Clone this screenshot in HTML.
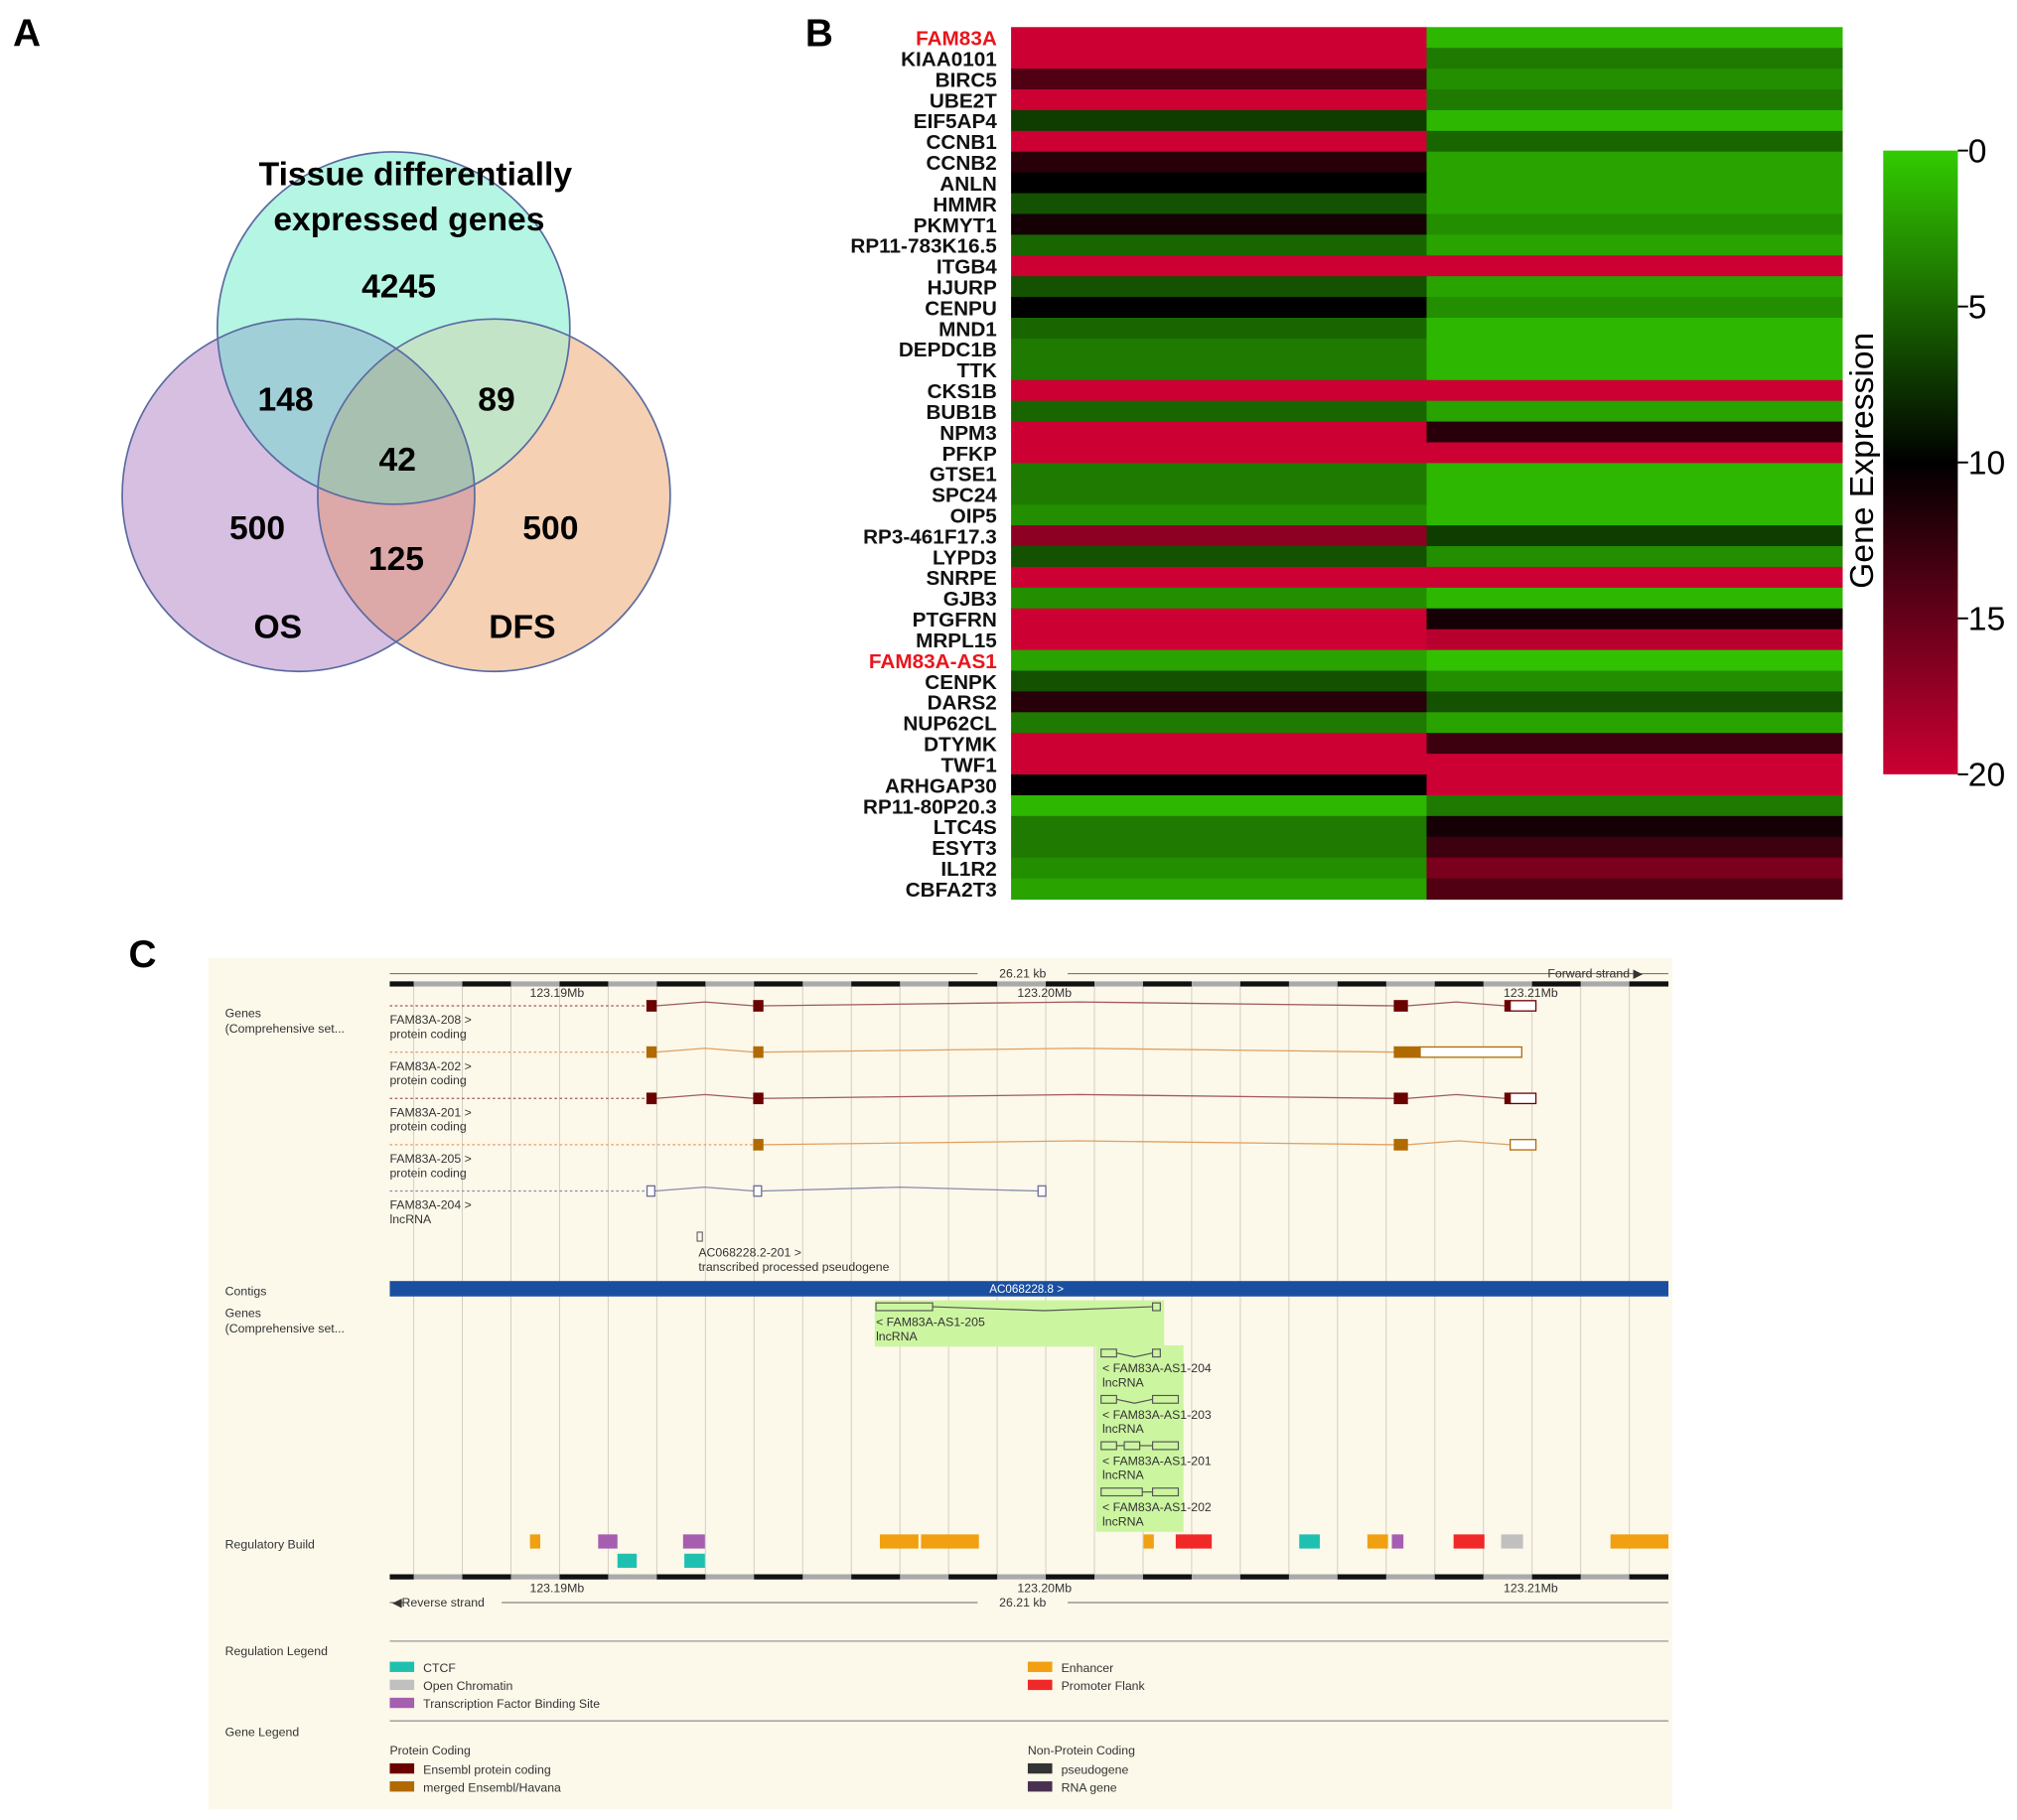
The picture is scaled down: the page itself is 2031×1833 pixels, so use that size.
<!DOCTYPE html>
<html><head><meta charset="utf-8"><style>
html,body{margin:0;padding:0;background:#fff}
svg{display:block}
text{font-family:"Liberation Sans",sans-serif}
.b{font-weight:bold}
.c{font-size:9.5px;fill:#333}
</style></head><body>
<svg id="fig" width="2031" height="1833" viewBox="0 0 1568 1415" xmlns="http://www.w3.org/2000/svg">
<defs>
<clipPath id="cT"><circle cx="306" cy="255" r="137"/></clipPath>
<clipPath id="cL"><circle cx="232" cy="385" r="137"/></clipPath>
<clipPath id="cR"><circle cx="384" cy="385" r="137"/></clipPath>
<linearGradient id="cbar" x1="0" y1="0" x2="0" y2="1">
<stop offset="0" stop-color="#33cc00"/><stop offset="0.5" stop-color="#000"/><stop offset="1" stop-color="#cc0033"/>
</linearGradient>
</defs>
<!-- Panel A -->
<g>
<text x="10" y="36" class="b" font-size="30">A</text>
<circle cx="306" cy="255" r="137" fill="#b5f5e3"/>
<circle cx="232" cy="385" r="137" fill="#d7bfe2"/>
<circle cx="384" cy="385" r="137" fill="#f5d0b3"/>
<g clip-path="url(#cT)"><circle cx="232" cy="385" r="137" fill="#a0cfd8"/><circle cx="384" cy="385" r="137" fill="#c4e4c8"/></g>
<g clip-path="url(#cL)"><circle cx="384" cy="385" r="137" fill="#dca8a8"/></g>
<g clip-path="url(#cL)"><g clip-path="url(#cR)"><circle cx="306" cy="255" r="137" fill="#a8c0b0"/></g></g>
<circle cx="306" cy="255" r="137" fill="none" stroke="#5a6aa0" stroke-width="1.3"/>
<circle cx="232" cy="385" r="137" fill="none" stroke="#5a6aa0" stroke-width="1.3"/>
<circle cx="384" cy="385" r="137" fill="none" stroke="#5a6aa0" stroke-width="1.3"/>
<g class="b" font-size="26" text-anchor="middle">
<text x="323" y="144">Tissue differentially</text>
<text x="318" y="179">expressed genes</text>
<text x="310" y="231">4245</text>
<text x="222" y="319">148</text>
<text x="386" y="319">89</text>
<text x="309" y="366">42</text>
<text x="200" y="419">500</text>
<text x="308" y="443">125</text>
<text x="428" y="419">500</text>
<text x="216" y="496">OS</text>
<text x="406" y="496">DFS</text>
</g>
</g>
<!-- Panel B -->
<text x="626" y="36" class="b" font-size="30">B</text>
<g id="heat"></g>
<g>
<rect x="1464" y="117" width="58" height="485" fill="url(#cbar)"/>
<g id="cbticks"></g>
<text transform="translate(1456,358) rotate(-90)" text-anchor="middle" font-size="26">Gene Expression</text>
</g>
<!-- Panel C -->
<text x="100" y="752" class="b" font-size="30">C</text>
<g>
<rect x="162" y="745" width="1138" height="662" fill="#fcf8ea"/>
<g id="grid"></g>
<line x1="303" y1="757" x2="1297" y2="757" stroke="#666" stroke-width="0.8"/>
<rect x="760" y="751" width="70" height="10" fill="#fcf8ea"/>
<text x="795" y="760" text-anchor="middle" class="c" font-size="8">26.21 kb</text>
<text x="1240" y="760" class="c" font-size="8" text-anchor="middle">Forward strand ▶</text>
<g id="ruler1"></g>
<text x="433" y="775" class="c" font-size="8" text-anchor="middle">123.19Mb</text>
<text x="812" y="775" class="c" font-size="8" text-anchor="middle">123.20Mb</text>
<text x="1190" y="775" class="c" font-size="8" text-anchor="middle">123.21Mb</text>
<text x="175" y="791" class="c">Genes</text><text x="175" y="803" class="c">(Comprehensive set...</text>
<g id="tx"></g>
<rect x="542" y="958" width="4" height="7" fill="none" stroke="#555" stroke-width="0.8"/>
<text x="543" y="977" class="c">AC068228.2-201 &gt;</text><text x="543" y="988" class="c">transcribed processed pseudogene</text>
<text x="175" y="1007" class="c">Contigs</text>
<rect x="303" y="996" width="994" height="12" fill="#1a4fa0"/>
<text x="798" y="1005" text-anchor="middle" font-size="9" fill="#fff">AC068228.8 &gt;</text>
<text x="175" y="1024" class="c">Genes</text><text x="175" y="1036" class="c">(Comprehensive set...</text>
<rect x="680" y="1011" width="225" height="36" fill="#ccf5a0"/>
<rect x="852" y="1046" width="68" height="145" fill="#ccf5a0"/>
<g fill="none" stroke="#555" stroke-width="0.9">
<rect x="681" y="1013" width="44" height="6"/><polyline points="725,1016 812,1019 896,1016"/><rect x="896" y="1013" width="6" height="6"/>
<rect x="856" y="1049" width="12" height="6"/><polyline points="868,1052 882,1055 896,1052"/><rect x="896" y="1049" width="6" height="6"/>
<rect x="856" y="1085" width="12" height="6"/><polyline points="868,1088 882,1091 896,1088"/><rect x="896" y="1085" width="20" height="6"/>
<rect x="856" y="1121" width="12" height="6"/><line x1="868" y1="1124" x2="874" y2="1124"/><rect x="874" y="1121" width="12" height="6"/><line x1="886" y1="1124" x2="896" y2="1124"/><rect x="896" y="1121" width="20" height="6"/>
<rect x="856" y="1157" width="32" height="6"/><line x1="888" y1="1160" x2="896" y2="1160"/><rect x="896" y="1157" width="20" height="6"/>
</g>
<text x="681" y="1031" class="c">&lt; FAM83A-AS1-205</text><text x="681" y="1042" class="c">lncRNA</text>
<text x="857" y="1067" class="c">&lt; FAM83A-AS1-204</text><text x="857" y="1078" class="c">lncRNA</text>
<text x="857" y="1103" class="c">&lt; FAM83A-AS1-203</text><text x="857" y="1114" class="c">lncRNA</text>
<text x="857" y="1139" class="c">&lt; FAM83A-AS1-201</text><text x="857" y="1150" class="c">lncRNA</text>
<text x="857" y="1175" class="c">&lt; FAM83A-AS1-202</text><text x="857" y="1186" class="c">lncRNA</text>
<text x="175" y="1204" class="c">Regulatory Build</text>
<g id="reg"></g>
<g id="ruler2"></g>
<text x="433" y="1238" class="c" font-size="8" text-anchor="middle">123.19Mb</text>
<text x="812" y="1238" class="c" font-size="8" text-anchor="middle">123.20Mb</text>
<text x="1190" y="1238" class="c" font-size="8" text-anchor="middle">123.21Mb</text>
<line x1="303" y1="1246" x2="1297" y2="1246" stroke="#666" stroke-width="0.8"/>
<rect x="760" y="1240" width="70" height="10" fill="#fcf8ea"/><rect x="318" y="1240" width="72" height="10" fill="#fcf8ea"/>
<text x="795" y="1249" text-anchor="middle" class="c" font-size="8">26.21 kb</text>
<text x="305" y="1249" class="c" font-size="8">◀Reverse strand</text>
<line x1="303" y1="1276" x2="1297" y2="1276" stroke="#999"/>
<text x="175" y="1287" class="c">Regulation Legend</text>
<rect x="303" y="1292" width="19" height="8" fill="#20c0b0"/><text x="329" y="1300" class="c">CTCF</text>
<rect x="303" y="1306" width="19" height="8" fill="#c0c0c0"/><text x="329" y="1314" class="c">Open Chromatin</text>
<rect x="303" y="1320" width="19" height="8" fill="#a65eb0"/><text x="329" y="1328" class="c">Transcription Factor Binding Site</text>
<rect x="799" y="1292" width="19" height="8" fill="#f0a010"/><text x="825" y="1300" class="c">Enhancer</text>
<rect x="799" y="1306" width="19" height="8" fill="#f02828"/><text x="825" y="1314" class="c">Promoter Flank</text>
<line x1="303" y1="1338" x2="1297" y2="1338" stroke="#999"/>
<text x="175" y="1350" class="c">Gene Legend</text>
<text x="303" y="1364" class="c" font-size="11">Protein Coding</text>
<rect x="303" y="1371" width="19" height="8" fill="#6a0000"/><text x="329" y="1379" class="c">Ensembl protein coding</text>
<rect x="303" y="1385" width="19" height="8" fill="#b06a00"/><text x="329" y="1393" class="c">merged Ensembl/Havana</text>
<text x="799" y="1364" class="c" font-size="11">Non-Protein Coding</text>
<rect x="799" y="1371" width="19" height="8" fill="#333"/><text x="825" y="1379" class="c">pseudogene</text>
<rect x="799" y="1385" width="19" height="8" fill="#4a3050"/><text x="825" y="1393" class="c">RNA gene</text>
</g>
</svg>
<script>
const NS='http://www.w3.org/2000/svg';
function mk(p,t,a){const e=document.createElementNS(NS,t);for(const k in a)e.setAttribute(k,a[k]);p.appendChild(e);return e;}
// Heatmap data
const genes=["FAM83A","KIAA0101","BIRC5","UBE2T","EIF5AP4","CCNB1","CCNB2","ANLN","HMMR","PKMYT1","RP11-783K16.5","ITGB4","HJURP","CENPU","MND1","DEPDC1B","TTK","CKS1B","BUB1B","NPM3","PFKP","GTSE1","SPC24","OIP5","RP3-461F17.3","LYPD3","SNRPE","GJB3","PTGFRN","MRPL15","FAM83A-AS1","CENPK","DARS2","NUP62CL","DTYMK","TWF1","ARHGAP30","RP11-80P20.3","LTC4S","ESYT3","IL1R2","CBFA2T3"];
const col1=[20,20,14,20,7,20,12,10,6,11,5,20,6,10,5,4,4,20,5,20,20,4,4,3,17,6,20,3,20,20,2,6,12,4,20,20,10,1,4,4,3,2];
const col2=[1,4,3,4,1,5,2,2,2,3,2,20,2,3,1,1,1,20,2,12,20,1,1,1,7,3,20,1,11,19,0.5,3,6,2,13,20,20,4,11,13,16,14];
const highlight=["FAM83A","FAM83A-AS1"];
const cbTicks=[0,5,10,15,20];
const hx0=786,hx1=1432,hy0=21,hy1=699,cbY0=117,cbY1=602;
const rowY=i=>hy0+i*(hy1-hy0)/genes.length;
const rowH=(hy1-hy0)/genes.length;
const colX=j=>hx0+j*(hx1-hx0)/2;
const cbY=v=>cbY0+(v/20)*(cbY1-cbY0);
function color(v){const t=Math.max(0,Math.min(20,v))/20;let r,g,b;
 if(t<0.5){const u=t/0.5;r=0x33*(1-u);g=0xcc*(1-u);b=0;}else{const u=(t-0.5)/0.5;r=0xcc*u;g=0;b=0x33*u;}
 return `rgb(${r|0},${g|0},${b|0})`;}
const heat=document.getElementById('heat');
genes.forEach((g,i)=>{
 [col1,col2].forEach((c,j)=>{
  const r=mk(heat,'rect',{x:colX(j),y:rowY(i),width:(hx1-hx0)/2+0.5,height:rowH+0.5,fill:color(c[i])});
  
  
 });
 const t=mk(heat,'text',{x:775,y:rowY(i)+rowH-2,'text-anchor':'end','font-size':16,'font-weight':'bold',fill:highlight.includes(g)?'#e8161b':'#111',textLength:'',});
 t.removeAttribute('textLength');
 t.textContent=g;
 
 
});
const cbt=document.getElementById('cbticks');
cbTicks.forEach(v=>{
 mk(cbt,'line',{x1:1522,x2:1530,y1:cbY(v),y2:cbY(v),stroke:'#000','stroke-width':1.5});
 const t=mk(cbt,'text',{x:1530,y:cbY(v)+9,'font-size':26});
 t.textContent=v;
 
 
});
// Genome browser
const kbPx=37.8, x190=435;
const grid=document.getElementById('grid');
for(let x=x190-4*kbPx;x<1300;x+=kbPx){if(x<303)continue;mk(grid,'line',{x1:x,x2:x,y1:765,y2:1226,stroke:'#d4d0c4','stroke-width':0.8});}
function ruler(id,y){const g=document.getElementById(id);
 mk(g,'rect',{x:303,y:y,width:994,height:4,fill:'#aaa'});
 let k=0;for(let x=x190-4*kbPx;x<1297;x+=kbPx,k++){const a=Math.max(303,x),b=Math.min(1297,x+kbPx);if(b>a&&k%2==0)mk(g,'rect',{x:a,y:y,width:b-a,height:4,fill:'#111'});}}
ruler('ruler1',763);ruler('ruler2',1224);
const txs=[
 {n:"FAM83A-208 >",t:"protein coding",y:782,c:'#6a0000',l:'#a05a5a',lc:'#333',ex:[[503,7,1],[586,7,1],[1084,10,1],[1170,4,1],[1174,20,0]]},
 {n:"FAM83A-202 >",t:"protein coding",y:818,c:'#b06a00',l:'#e0a060',lc:'#a0522d',ex:[[503,7,1],[586,7,1],[1084,20,1],[1104,79,0]]},
 {n:"FAM83A-201 >",t:"protein coding",y:854,c:'#6a0000',l:'#a05a5a',lc:'#333',ex:[[503,7,1],[586,7,1],[1084,10,1],[1170,4,1],[1174,20,0]]},
 {n:"FAM83A-205 >",t:"protein coding",y:890,c:'#b06a00',l:'#e0a060',lc:'#a0522d',ex:[[586,7,1],[1084,10,1],[1174,20,0]]},
 {n:"FAM83A-204 >",t:"lncRNA",y:926,c:'#6a6a9a',l:'#8a8aaa',lc:'#333',ex:[[503,6,0],[586,6,0],[807,6,0]]}];
const tx=document.getElementById('tx');
txs.forEach(o=>{
 const first=o.ex[0][0];
 mk(tx,'line',{x1:303,x2:first,y1:o.y,y2:o.y,stroke:o.l,'stroke-dasharray':'2,2','stroke-width':1});
 for(let i=0;i<o.ex.length-1;i++){const a=o.ex[i][0]+o.ex[i][1],b=o.ex[i+1][0];if(b>a){const m=(a+b)/2;mk(tx,'polyline',{points:`${a},${o.y} ${m},${o.y-3} ${b},${o.y}`,fill:'none',stroke:o.l,'stroke-width':1});}}
 o.ex.forEach(e=>{mk(tx,'rect',{x:e[0],y:o.y-4,width:e[1],height:8,fill:e[2]?o.c:'#fff',stroke:o.c,'stroke-width':1});});
 const a=mk(tx,'text',{x:303,y:o.y+14,class:'c',fill:o.lc});a.textContent=o.n;
 const b=mk(tx,'text',{x:303,y:o.y+25,class:'c',fill:o.lc});b.textContent=o.t;
});
const regs=[[412,8,0,'#f0a010'],[465,15,0,'#a65eb0'],[531,17,0,'#a65eb0'],[684,30,0,'#f0a010'],[716,45,0,'#f0a010'],[889,8,0,'#f0a010'],[914,28,0,'#f02828'],[1010,16,0,'#20c0b0'],[1063,16,0,'#f0a010'],[1082,9,0,'#a65eb0'],[1130,24,0,'#f02828'],[1167,17,0,'#c0c0c0'],[1252,45,0,'#f0a010'],[480,15,1,'#20c0b0'],[532,16,1,'#20c0b0']];
const reg=document.getElementById('reg');
regs.forEach(r=>{mk(reg,'rect',{x:r[0],y:1193+r[2]*15,width:r[1],height:11,fill:r[3]});});
</script>
</body></html>
